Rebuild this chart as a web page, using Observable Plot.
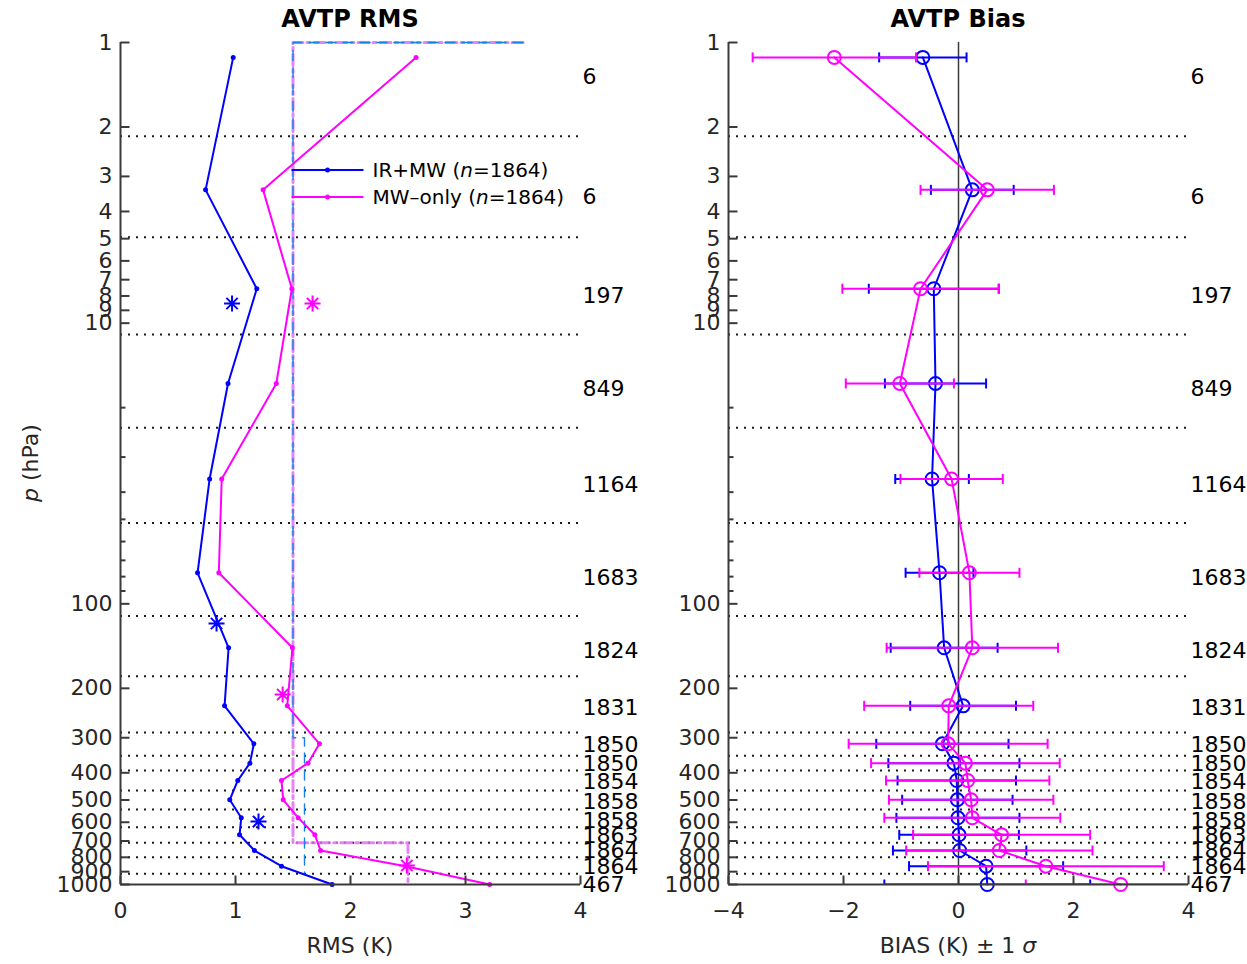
<!DOCTYPE html>
<html><head><meta charset="utf-8">
<script src="https://cdn.jsdelivr.net/npm/d3@7"></script>
<script src="https://cdn.jsdelivr.net/npm/@observablehq/plot@0.6"></script>
<style>
body{margin:0;background:#fff;}
#wrap{position:relative;width:1247px;height:964px;font-family:"DejaVu Sans",sans-serif;}
#wrap svg{position:absolute;top:0;overflow:visible;}
</style></head><body><div id="wrap"></div>
<script>
// ---- data ----
const pressure = [1.13, 3.35, 7.54, 16.4, 35.9, 77.5, 143.4, 230.9, 315.3, 369.6, 426.0, 499.0, 578.6, 665.2, 756.6, 860.5, 1000];
const rmsIRMW = [0.98, 0.74, 1.185, 0.935, 0.775, 0.67, 0.94, 0.905, 1.16, 1.125, 1.02, 0.95, 1.05, 1.035, 1.165, 1.40, 1.84];
const rmsMW   = [2.57, 1.24, 1.49, 1.355, 0.88, 0.855, 1.495, 1.45, 1.73, 1.63, 1.40, 1.415, 1.545, 1.69, 1.74, 2.48, 3.21];
const biasIRMW = [-0.62, 0.24, -0.43, -0.40, -0.46, -0.33, -0.25, 0.08, -0.28, -0.08, -0.03, -0.02, -0.01, 0.01, 0.02, 0.48, 0.50];
const sdIRMW   = [0.76, 0.72, 1.13, 0.88, 0.64, 0.59, 0.93, 0.92, 1.15, 1.14, 1.03, 0.96, 1.07, 1.04, 1.16, 1.34, 1.79];
const biasMW = [-2.16, 0.50, -0.66, -1.02, -0.12, 0.19, 0.24, -0.17, -0.18, 0.12, 0.16, 0.22, 0.24, 0.75, 0.71, 1.52, 2.82];
const sdMW   = [1.42, 1.16, 1.36, 0.94, 0.89, 0.87, 1.49, 1.47, 1.73, 1.64, 1.42, 1.43, 1.53, 1.54, 1.62, 2.05, 1.65];
const counts = [6, 6, 197, 849, 1164, 1683, 1824, 1831, 1850, 1850, 1854, 1858, 1858, 1863, 1864, 1864, 467];
const countP = [1.33, 3.54, 7.97, 17.2, 37.6, 81.2, 146.7, 234.1, 317.1, 370.6, 429.5, 506.1, 591.6, 669, 756.6, 862.7, 1000];
const layerBounds = [2.157, 4.94, 10.98, 23.6, 51.5, 110.6, 181.3, 287.6, 347.5, 392.8, 462.5, 540.5, 624.9, 710.3, 799.1, 915.9];
const starP_IRMW = [8.51, 117.5, 596.5];
const starRMS_IRMW = [0.97, 0.835, 1.20];
const starP_MW = [8.51, 210.4, 855.6];
const starRMS_MW = [1.67, 1.41, 2.49];
const reqIRMW_x = [3.5, 1.5, 1.5, 1.6, 1.6];
const reqIRMW_p = [1, 1, 300, 300, 916];
const reqMW_x = [3.5, 1.5, 1.5, 2.5, 2.5];
const reqMW_p = [1, 1, 710, 710, 1000];
const yTickLabeled = [1, 2, 3, 4, 5, 6, 7, 8, 9, 10, 100, 200, 300, 400, 500, 600, 700, 800, 900, 1000];
const yTickMinor = [20, 30, 40, 50, 60, 70, 80, 90];
const xTicksRMS = [0, 1, 2, 3, 4];
const xTicksBias = [-4, -2, 0, 2, 4];
const seriesNames = ["IR+MW", "MW\u2013only"];
const seriesN = [1864, 1864];

// ---- tables ----
const rows = pressure.map((p, i) => ({
  p, rA: rmsIRMW[i], rB: rmsMW[i],
  bA: biasIRMW[i], loA: biasIRMW[i] - sdIRMW[i], hiA: biasIRMW[i] + sdIRMW[i],
  bB: biasMW[i], loB: biasMW[i] - sdMW[i], hiB: biasMW[i] + sdMW[i]
}));
const countRows = counts.map((c, i) => ({c, p: countP[i]}));
const starsA = starP_IRMW.map((p, i) => ({p, x: starRMS_IRMW[i]}));
const starsB = starP_MW.map((p, i) => ({p, x: starRMS_MW[i]}));
const reqA = reqIRMW_x.map((x, i) => ({x, p: reqIRMW_p[i]}));
const reqB = reqMW_x.map((x, i) => ({x, p: reqMW_p[i]}));

const BLUE = "#0000ff", MAG = "#ff00ff", AX = "#3a3a3a";
const hTick = {draw(c, s) { const r = Math.sqrt(s / Math.PI); c.moveTo(0, 0); c.lineTo(r, 0); }};
const vTickUp = {draw(c, s) { const r = Math.sqrt(s / Math.PI); c.moveTo(0, 0); c.lineTo(0, -r); }};
const vCap = {draw(c, s) { const r = Math.sqrt(s / Math.PI); c.moveTo(0, -r); c.lineTo(0, r); }};
const star8 = {draw(c, s) {
  const r = Math.sqrt(s / Math.PI), d = r * Math.SQRT1_2;
  c.moveTo(-r, 0); c.lineTo(r, 0); c.moveTo(0, -r); c.lineTo(0, r);
  c.moveTo(-d, -d); c.lineTo(d, d); c.moveTo(-d, d); c.lineTo(d, -d);
}};
const fmtMinus = d => d < 0 ? "\u2212" + (-d) : String(d);

function axisMarks(x0, x1, xt) {
  return [
    Plot.ruleX([x0], {y1: 1, y2: 1000, stroke: AX, strokeWidth: 2}),
    Plot.ruleY([1000], {x1: x0, x2: x1, stroke: AX, strokeWidth: 2}),
    Plot.dot(yTickLabeled, {x: x0, y: d => d, symbol: hTick, r: 9, stroke: AX, strokeWidth: 2, fill: "none"}),
    Plot.dot(yTickMinor, {x: x0, y: d => d, symbol: hTick, r: 5, stroke: AX, strokeWidth: 2, fill: "none"}),
    Plot.dot(xt, {x: d => d, y: 1000, symbol: vTickUp, r: 9, stroke: AX, strokeWidth: 2, fill: "none"}),
    Plot.text(yTickLabeled, {x: x0, y: d => d, text: d => String(d), textAnchor: "end", dx: -8, fill: "#262626", fontSize: 22}),
    Plot.text(countRows, {x: x1, y: "p", text: d => String(d.c), textAnchor: "start", dx: 2, fill: "#000", fontSize: 22})
  ];
}

const common = {
  height: 964, marginTop: 42, marginBottom: 80,
  style: {fontFamily: "DejaVu Sans", fontSize: "22px", color: "#262626", background: "transparent", overflow: "visible"}
};
const yOpt = {type: "log", domain: [1, 1000], reverse: true, axis: null};

const left = Plot.plot({
  ...common, width: 620, marginLeft: 120, marginRight: 40,
  x: {domain: [0, 4], ticks: xTicksRMS, tickFormat: d => String(d), tickSize: 0, tickPadding: 18, label: null},
  y: yOpt,
  marks: [
    Plot.ruleY(layerBounds, {x1: 0, x2: 4, stroke: "#1a1a1a", strokeWidth: 2, strokeDasharray: "2,6"}),
    Plot.line(reqB, {x: "x", y: "p", stroke: "#e070f0", strokeOpacity: 0.85, strokeWidth: 3, strokeDasharray: "11,4,3,4"}),
    Plot.line(reqA, {x: "x", y: "p", stroke: "#1a7fe8", strokeWidth: 1.4, strokeDasharray: "10,7"}),
    Plot.line(rows, {x: "rA", y: "p", stroke: BLUE, strokeWidth: 2}),
    Plot.dot(rows, {x: "rA", y: "p", fill: BLUE, r: 2.5}),
    Plot.line(rows, {x: "rB", y: "p", stroke: MAG, strokeWidth: 2}),
    Plot.dot(rows, {x: "rB", y: "p", fill: MAG, r: 2.5}),
    Plot.dot(starsA, {x: "x", y: "p", symbol: star8, r: 8, stroke: BLUE, strokeWidth: 2, fill: "none"}),
    Plot.dot(starsB, {x: "x", y: "p", symbol: star8, r: 8, stroke: MAG, strokeWidth: 2, fill: "none"}),
    ...axisMarks(0, 4, xTicksRMS)
  ]
});

const right = Plot.plot({
  ...common, width: 627, marginLeft: 108, marginRight: 59,
  x: {domain: [-4, 4], ticks: xTicksBias, tickFormat: fmtMinus, tickSize: 0, tickPadding: 18, label: null},
  y: yOpt,
  marks: [
    Plot.ruleY(layerBounds, {x1: -4, x2: 4, stroke: "#1a1a1a", strokeWidth: 2, strokeDasharray: "2,6"}),
    Plot.ruleX([0], {y1: 1, y2: 1000, stroke: AX, strokeWidth: 1.5}),
    Plot.ruleY(rows, {y: "p", x1: "loA", x2: "hiA", stroke: BLUE, strokeWidth: 2, clip: true}),
    Plot.dot(rows, {x: "loA", y: "p", symbol: vCap, r: 5, stroke: BLUE, strokeWidth: 2, fill: "none", clip: true}),
    Plot.dot(rows, {x: "hiA", y: "p", symbol: vCap, r: 5, stroke: BLUE, strokeWidth: 2, fill: "none", clip: true}),
    Plot.line(rows, {x: "bA", y: "p", stroke: BLUE, strokeWidth: 2}),
    Plot.dot(rows, {x: "bA", y: "p", r: 6.5, stroke: BLUE, strokeWidth: 2, fill: "none"}),
    Plot.ruleY(rows, {y: "p", x1: "loB", x2: "hiB", stroke: MAG, strokeWidth: 2, clip: true}),
    Plot.dot(rows, {x: "loB", y: "p", symbol: vCap, r: 5, stroke: MAG, strokeWidth: 2, fill: "none", clip: true}),
    Plot.dot(rows, {x: "hiB", y: "p", symbol: vCap, r: 5, stroke: MAG, strokeWidth: 2, fill: "none", clip: true}),
    Plot.line(rows, {x: "bB", y: "p", stroke: MAG, strokeWidth: 2}),
    Plot.dot(rows, {x: "bB", y: "p", r: 6.5, stroke: MAG, strokeWidth: 2, fill: "none"}),
    ...axisMarks(-4, 4, xTicksBias)
  ]
});

const wrap = document.getElementById("wrap");
left.style.left = "0px";
right.style.left = "620px";
wrap.appendChild(left);
wrap.appendChild(right);

function decorate(svgNode, title, xlabelParts, withYLabel, withLegend) {
  const svg = d3.select(svgNode);
  const sx = svgNode.scale("x"), sy = svgNode.scale("y");
  const [r0, r1] = sx.range;
  const cx = (r0 + r1) / 2;
  svg.append("text").attr("x", cx).attr("y", 27).attr("text-anchor", "middle")
    .attr("font-size", 24).attr("font-weight", "bold").attr("fill", "#000").text(title);
  const xl = svg.append("text").attr("x", cx).attr("y", 953).attr("text-anchor", "middle")
    .attr("font-size", 22).attr("fill", "#262626");
  xlabelParts.forEach(([t, it]) => xl.append("tspan").attr("font-style", it ? "italic" : null).text(t));
  if (withYLabel) {
    const yl = svg.append("text").attr("transform", `translate(38,${(sy.apply(1) + sy.apply(1000)) / 2}) rotate(-90)`)
      .attr("text-anchor", "middle").attr("font-size", 22).attr("fill", "#262626");
    yl.append("tspan").attr("font-style", "italic").text("p");
    yl.append("tspan").text(" (hPa)");
  }
  if (withLegend) {
    const cols = [BLUE, MAG];
    const ys = [170, 197];
    seriesNames.forEach((name, i) => {
      const x0 = sx.apply(1.5) - 1, x1 = x0 + 72;
      svg.append("line").attr("x1", x0).attr("x2", x1).attr("y1", ys[i]).attr("y2", ys[i])
        .attr("stroke", cols[i]).attr("stroke-width", 2);
      svg.append("circle").attr("cx", (x0 + x1) / 2).attr("cy", ys[i]).attr("r", 2.5).attr("fill", cols[i]);
      const t = svg.append("text").attr("x", x1 + 9).attr("y", ys[i]).attr("dy", "0.35em")
        .attr("text-anchor", "start").attr("font-size", 20).attr("fill", "#000");
      t.append("tspan").text(name + " (");
      t.append("tspan").attr("font-style", "italic").text("n");
      t.append("tspan").text("=" + seriesN[i] + ")");
    });
  }
}
decorate(left, "AVTP RMS", [["RMS (K)", false]], true, true);
decorate(right, "AVTP Bias", [["BIAS (K) \u00b1 1 ", false], ["\u03c3", true]], false, false);
</script>
</body></html>
